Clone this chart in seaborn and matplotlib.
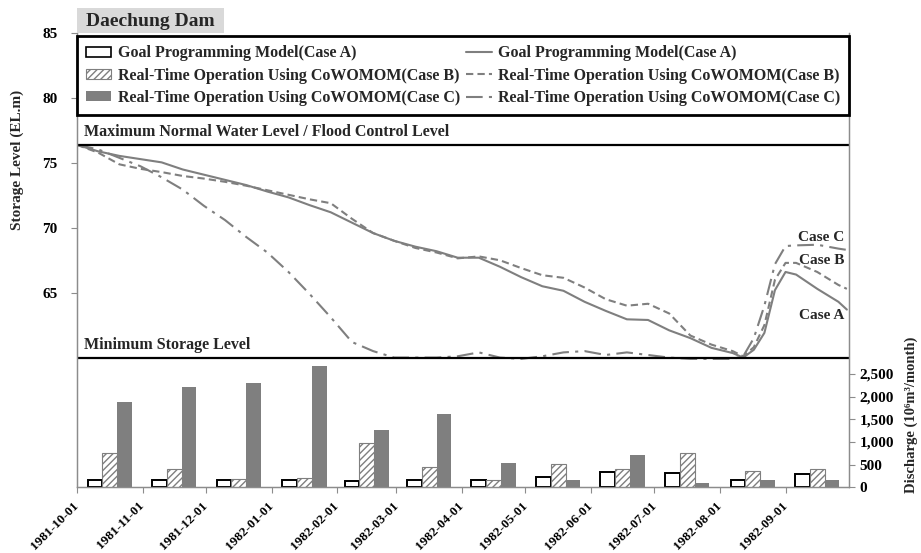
import matplotlib
matplotlib.use("Agg")
import matplotlib.pyplot as plt
import matplotlib.dates as mdates
import matplotlib.ticker as mticker
from matplotlib.patches import Patch, Rectangle
from matplotlib.lines import Line2D
import pandas as pd
import seaborn as sns

# storage level (EL.m)
level_dates = [
    "1981-10-01", "1981-10-11", "1981-10-21", "1981-10-31", "1981-11-10",
    "1981-11-20", "1981-11-30", "1981-12-10", "1981-12-20", "1981-12-30",
    "1982-01-09", "1982-01-19", "1982-01-29", "1982-02-08", "1982-02-18",
    "1982-02-28", "1982-03-10", "1982-03-20", "1982-03-30", "1982-04-09",
    "1982-04-19", "1982-04-29", "1982-05-09", "1982-05-19", "1982-05-29",
    "1982-06-08", "1982-06-18", "1982-06-28", "1982-07-08", "1982-07-18",
    "1982-07-28", "1982-08-07", "1982-08-12", "1982-08-17", "1982-08-22",
    "1982-08-27", "1982-09-01", "1982-09-06", "1982-09-16", "1982-09-26",
    "1982-09-30",
]
level_case_a = [
    76.4, 75.9, 75.55, 75.3, 75.05, 74.5, 74.1, 73.7, 73.3, 72.8,
    72.35, 71.75, 71.2, 70.4, 69.6, 69.0, 68.55, 68.2, 67.7, 67.7,
    67.0, 66.2, 65.5, 65.15, 64.3, 63.6, 62.95, 62.9, 62.1, 61.5,
    60.75, 60.35, 60.0, 60.6, 61.9, 65.2, 66.6, 66.4, 65.3, 64.3,
    63.7,
]
level_case_b = [
    76.4, 75.8, 74.9, 74.55, 74.3, 74.0, 73.8, 73.55, 73.25, 72.9,
    72.55, 72.2, 71.9, 70.7, 69.6, 69.0, 68.45, 68.1, 67.65, 67.8,
    67.5, 66.9, 66.35, 66.15, 65.4, 64.5, 64.0, 64.15, 63.4, 61.7,
    61.0, 60.5, 60.1, 60.8, 62.5, 66.0, 67.3, 67.3, 66.6, 65.6,
    65.3,
]
level_case_c = [
    76.4, 76.05, 75.4, 74.75, 73.9, 72.95, 71.7, 70.6, 69.3, 68.1,
    66.6, 64.9, 63.1, 61.2, 60.5, 60.0, 60.0, 60.0, 60.1, 60.4,
    60.0, 59.9, 60.1, 60.4, 60.5, 60.2, 60.4, 60.2, 60.0, 59.9,
    59.9, 59.9, 60.1, 61.5, 64.0, 67.2, 68.6, 68.65, 68.7, 68.4,
    68.3,
]

# monthly discharge (10^6 m3/month)
months = [
    "1981-10-01", "1981-11-01", "1981-12-01", "1982-01-01", "1982-02-01",
    "1982-03-01", "1982-04-01", "1982-05-01", "1982-06-01", "1982-07-01",
    "1982-08-01", "1982-09-01",
]
discharge_a = [170, 170, 170, 170, 145, 170, 170, 225, 345, 305, 170, 285]
discharge_b = [755, 410, 175, 195, 965, 440, 170, 505, 400, 745, 350, 395]
discharge_c = [1880, 2210, 2300, 2670, 1255, 1610, 540, 160, 715, 100, 160, 160]

max_level = 76.4
min_level = 60.0

case_labels = [
    "Goal Programming Model(Case A)",
    "Real-Time Operation Using CoWOMOM(Case B)",
    "Real-Time Operation Using CoWOMOM(Case C)",
]

sns.set_theme(style="ticks")
plt.rcParams["font.family"] = ["Liberation Serif", "DejaVu Serif"]
plt.rcParams["font.weight"] = "bold"

gray = "#7f7f7f"
spine_gray = "#8c8c8c"

fig = plt.figure(figsize=(9.21, 5.53), dpi=100)
ax = fig.add_axes([0.0836, 0.1188, 0.8382, 0.821])
ax2 = ax.twinx()

# storage level lines
dates = pd.to_datetime(level_dates)
styles = ["-", (0, (3.5, 2)), (0, (8, 3, 1.5, 3))]
for vals, ls in zip([level_case_a, level_case_b, level_case_c], styles):
    sns.lineplot(x=dates, y=vals, ax=ax, color=gray, lw=1.5, linestyle=ls)

ax.axhline(max_level, color="black", lw=1.6)
ax.axhline(min_level, color="black", lw=1.6)
trans = ax.get_yaxis_transform()
ax.text(0.009, max_level + 0.65, "Maximum Normal Water Level / Flood Control Level",
        transform=trans, fontsize=11.5, fontweight="bold", va="baseline")
ax.text(0.009, min_level + 0.65, "Minimum Storage Level",
        transform=trans, fontsize=11.5, fontweight="bold", va="baseline")

end = pd.Timestamp("1982-09-29")
ax.text(end, 69.25, "Case C", ha="right", va="center", fontsize=11, fontweight="bold")
ax.text(end, 67.5, "Case B", ha="right", va="center", fontsize=11, fontweight="bold")
ax.text(end, 63.25, "Case A", ha="right", va="center", fontsize=11, fontweight="bold")

# monthly discharge bars
month_start = pd.to_datetime(months)
month_mid = month_start + pd.to_timedelta(month_start.days_in_month / 2, unit="D")
w = 7
ax2.bar(month_mid - pd.Timedelta(days=w), discharge_a, width=w,
        facecolor="white", edgecolor="black", lw=1.4)
ax2.bar(month_mid, discharge_b, width=w, facecolor="white",
        edgecolor=gray, hatch="/////", lw=0.8)
ax2.bar(month_mid + pd.Timedelta(days=w), discharge_c, width=w,
        facecolor=gray, edgecolor="none")

# axes
ax.set_xlim(pd.Timestamp("1981-10-01"), pd.Timestamp("1982-10-01"))
ax.set_ylim(50, 85)
ax.set_yticks([65, 70, 75, 80, 85])
ax2.set_ylim(0, 10000)
ax2.set_yticks(range(0, 3000, 500))
ax2.yaxis.set_major_formatter(mticker.StrMethodFormatter("{x:,.0f}"))

ax.set_xticks(month_start)
ax.xaxis.set_major_formatter(mdates.DateFormatter("%Y-%m-%d"))
ax.set_xlabel("")

for a in (ax, ax2):
    a.spines["top"].set_visible(False)
    for s in ("left", "right", "bottom"):
        a.spines[s].set_color(spine_gray)
        a.spines[s].set_linewidth(0.9)
    a.tick_params(colors=spine_gray, labelcolor="black", length=4, width=0.8,
                  labelsize=11)
ax.tick_params(axis="y", pad=10)
ax.tick_params(axis="x", pad=8)

for lbl in ax.get_xticklabels():
    lbl.set_rotation(45)
    lbl.set_ha("right")
    lbl.set_va("center")
    lbl.set_rotation_mode("anchor")
    lbl.set_fontsize(9.5)
    lbl.set_fontweight("bold")

ax.set_ylabel("Storage Level (EL.m)", fontsize=11, fontweight="bold")
ax.yaxis.set_label_coords(-0.069, 0.72)
ax2.set_ylabel("Discharge (10⁶m³/month)", fontsize=10.5, fontweight="bold")
ax2.yaxis.set_label_coords(1.0725, 0.16)

# legend
handles = [
    Patch(facecolor="white", edgecolor="black", lw=1.2),
    Patch(facecolor="white", edgecolor=gray, hatch="/////", lw=0.8),
    Patch(facecolor=gray, edgecolor="none"),
    Line2D([], [], color=gray, lw=1.5, linestyle=styles[0]),
    Line2D([], [], color=gray, lw=1.5, linestyle=styles[1]),
    Line2D([], [], color=gray, lw=1.5, linestyle=styles[2]),
]
leg = ax2.legend(handles, case_labels + case_labels, ncol=2, loc="upper left",
                 bbox_to_anchor=(0.0, 0.993, 1.0, 0.0), mode="expand",
                 borderaxespad=0, fancybox=False, framealpha=1,
                 edgecolor="black", prop={"size": 11.5, "weight": "bold"},
                 handlelength=1.6, handleheight=0.6, handletextpad=0.4,
                 labelspacing=0.4, borderpad=0.55)
leg.get_frame().set_linewidth(2)

# title box
fig.add_artist(Rectangle((77 / 921, 1 - 33 / 553), 147 / 921, 25 / 553,
                         transform=fig.transFigure, facecolor="#d9d9d9",
                         edgecolor="none"))
fig.text(86 / 921, 1 - 22 / 553, "Daechung Dam", fontsize=14,
         fontweight="bold", va="center", ha="left")

fig.savefig("out.png", dpi=100)
